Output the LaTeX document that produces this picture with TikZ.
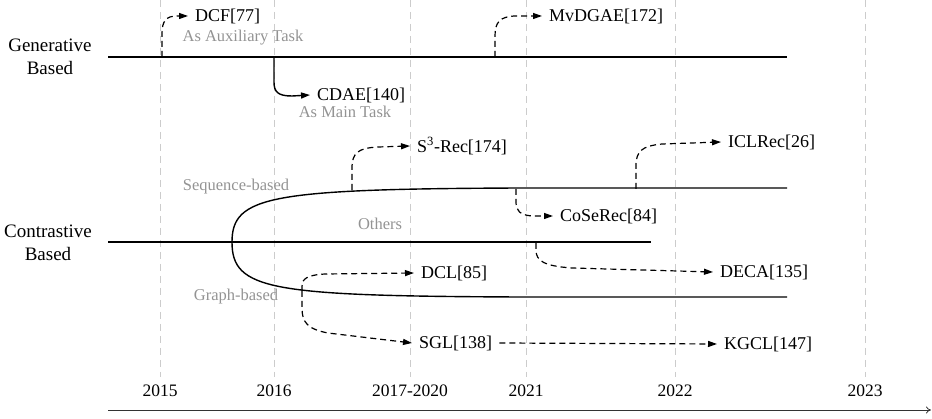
\documentclass[tikz,border=0pt]{standalone}
\usepackage{fontspec}
\setmainfont{Liberation Serif}
\usetikzlibrary{arrows.meta}
\begin{document}
\begin{tikzpicture}[x=1pt,y=-1pt,
  gridline/.style={gray!40, line width=0.8pt, dash pattern=on 7pt off 5pt},
  mainline/.style={line width=1.4pt},
  tip/.style={-{Triangle[length=9pt,width=6pt]}},
  conn/.style={line width=1.2pt, dash pattern=on 6pt off 4pt, tip},
  lbl/.style={anchor=west, inner xsep=7pt, inner ysep=1pt, font=\fontsize{18}{20}\selectfont},
  note/.style={text=gray!85, font=\fontsize{16.5}{18}\selectfont, inner sep=0pt},
  cat/.style={align=center, font=\fontsize{19}{22.5}\selectfont, inner sep=0pt},
  yearlbl/.style={font=\fontsize{17.5}{19}\selectfont, inner sep=0pt}
]
\useasboundingbox (0,0) rectangle (932,419);

% grid lines and years
\foreach \x/\t [count=\i] in {160/2015,274/2016,410/2017-2020,526/2021,675/2022,865/2023}{
  \draw[gridline] (\x,0) -- (\x,377);
  \node[yearlbl] (y\i) at (\x,391) {\t};
}
\coordinate (axs) at (108,410);
\coordinate (axe) at (931,410);
\draw[line width=0.8pt, black!80, -{To[length=5pt,width=7pt]}] (axs) -- (axe);

% categories
\node[cat] (gen) at (50,57) {Generative\\Based};
\node[cat] (con) at (48,243) {Contrastive\\Based};

% generative
\coordinate (gs) at (108,57);
\coordinate (ge) at (787,57);
\draw[mainline] (gs) -- (ge);
\node[lbl] (dcf) at (188,16) {DCF[77]};
\node[lbl] (cdae) at (310,95) {CDAE[140]};
\node[lbl] (mvdgae) at (542,16) {MvDGAE[172]};
\node[note] (aux) at (243,38) {As Auxiliary Task};
\node[note] (mt) at (345,112) {As Main Task};
\coordinate (pdcf) at (162,57);
\coordinate (pcdae) at (274,57);
\coordinate (pmv) at (495,57);
\draw[conn] (pdcf) -- (162,34) .. controls (162,21) and (166,16) .. (177,16) -- (dcf.west);
\draw[mainline, tip] (pcdae) -- (274,82) .. controls (274,92) and (278,96) .. (292,96) -- (cdae.west);
\draw[conn] (pmv) -- (495,36) .. controls (495,22) and (500,17) .. (514,16) -- (mvdgae.west);

% contrastive
\coordinate (cs) at (108,242);
\coordinate (ce) at (651,242);
\coordinate (split) at (232,242);
\coordinate (se) at (787,188);
\coordinate (gre) at (787,297);
\draw[mainline] (cs) -- (ce);
\draw[mainline] (split) .. controls (232,196) and (270,189) .. (520,188) -- (se);
\draw[mainline] (split) .. controls (232,290) and (270,296) .. (520,297) -- (gre);
\node[note] (seqb) at (236,187) {Sequence-based};
\node[note] (oth) at (380,224) {Others};
\node[note] (grb) at (236,297) {Graph-based};

\node[lbl] (s3) at (410,146) {S\textsuperscript{3}-Rec[174]};
\node[lbl] (icl) at (721,142) {ICLRec[26]};
\node[lbl] (cose) at (553,216) {CoSeRec[84]};
\node[lbl] (deca) at (713,272) {DECA[135]};
\node[lbl] (dcl) at (414,273) {DCL[85]};
\node[lbl] (sgl) at (412,343) {SGL[138]};
\node[lbl] (kgcl) at (717,344) {KGCL[147]};

\coordinate (ps3) at (352,190);
\coordinate (picl) at (636,189);
\coordinate (pcose) at (516,189);
\coordinate (pdeca) at (536,243);
\coordinate (pg) at (302,291);
\draw[conn] (ps3) -- (352,168) .. controls (352,153) and (358,148) .. (378,147) -- (s3.west);
\draw[conn] (picl) -- (636,166) .. controls (636,151) and (642,146) .. (662,144) -- (icl.west);
\draw[conn] (pcose) -- (516,202) .. controls (516,211) and (520,215) .. (532,216) -- (cose.west);
\draw[conn] (pdeca) -- (536,250) .. controls (536,261) and (544,266) .. (572,268) -- (deca.west);
\draw[conn] (pg) -- (302,286) .. controls (302,279) and (307,275) .. (325,274) -- (dcl.west);
\draw[conn] (pg) -- (302,308) .. controls (302,322) and (307,329) .. (328,333) -- (sgl.west);
\draw[conn] (sgl.east) -- (kgcl.west);
\end{tikzpicture}
\end{document}
